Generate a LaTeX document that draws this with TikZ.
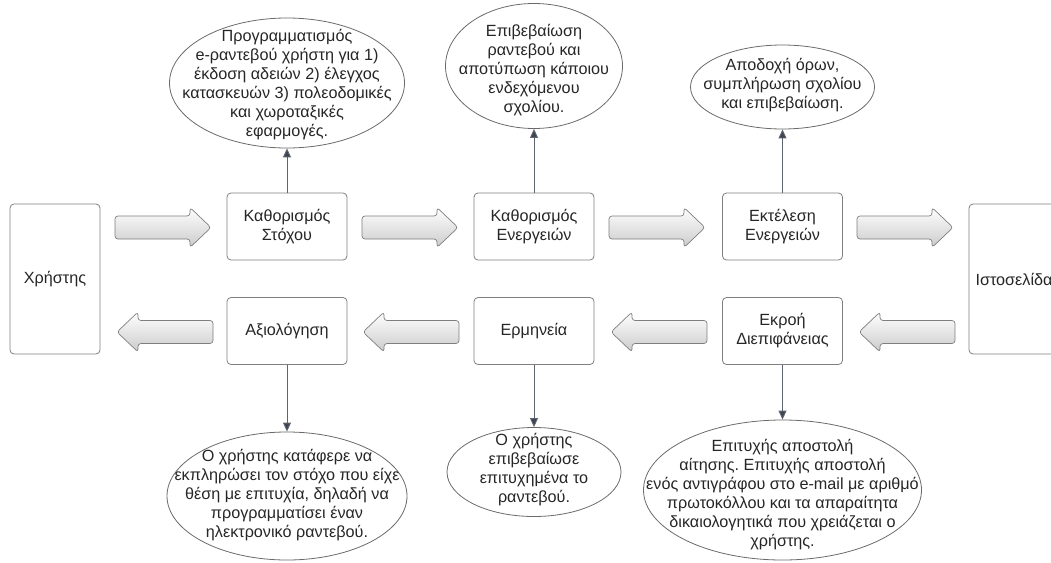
\documentclass[tikz,border=0pt]{standalone}
\usepackage{fontspec}
\setmainfont{Liberation Sans}
\usetikzlibrary{arrows.meta,shapes.geometric}
\frenchspacing

\definecolor{boxline}{HTML}{7F7F7F}
\definecolor{ellline}{HTML}{6A6A6A}
\definecolor{connline}{HTML}{5F6570}
\definecolor{tipfill}{HTML}{3E4552}
\definecolor{txt}{HTML}{262626}
\definecolor{arrowlow}{HTML}{CBCBCB}

\begin{document}
\begin{tikzpicture}[x=1pt,y=-1pt,
  every node/.style={font=\fontsize{16.2}{19}\selectfont, text=txt, align=center},
  stage/.style={draw=boxline, line width=0.8pt, rounded corners=4pt,
    minimum width=120pt, minimum height=67pt, inner sep=0pt},
  actor/.style={stage, minimum width=90pt, minimum height=150pt},
  note/.style={draw=ellline, line width=0.8pt, ellipse, inner sep=0pt},
  link/.style={draw=connline, line width=0.9pt,
    -{Triangle[length=9pt,width=8pt,fill=tipfill]}},
  flowbody/.style={draw=boxline, line width=0.7pt, rounded corners=3pt,
    top color=white, bottom color=arrowlow},
  pics/flowright/.style={code={
    \path[flowbody] (0,-11.5) -- (75,-11.5) -- (75,-20) -- (96,0)
      -- (75,20) -- (75,11.5) -- (0,11.5) -- cycle;}},
  pics/flowleft/.style={code={
    \path[flowbody] (96,-11.5) -- (21,-11.5) -- (21,-20) -- (0,0)
      -- (21,20) -- (21,11.5) -- (96,11.5) -- cycle;}},
]
\clip (0,0) rectangle (1051,562);

% end points of the loop
\node[actor] (user) at (55,279) {Χρήστης};
\node[actor] (site) at (1014,279) {Ιστοσελίδα};

% execution stages (top row)
\node[stage] (goal) at (287,226.5) {Καθορισμός\\Στόχου};
\node[stage] (plan) at (534,226.5) {Καθορισμός\\Ενεργειών};
\node[stage] (exec) at (782.5,226.5) {Εκτέλεση\\Ενεργειών};

% evaluation stages (bottom row)
\node[stage] (eval) at (287,331) {Αξιολόγηση};
\node[stage] (interp) at (534,331) {Ερμηνεία};
\node[stage] (out) at (782.5,331) {Εκροή\\Διεπιφάνειας};

% block arrows between the stages
\pic at (115,227.5) {flowright};
\pic at (362,227.5) {flowright};
\pic at (609,227.5) {flowright};
\pic at (857,227.5) {flowright};
\pic at (117,332) {flowleft};
\pic at (363,332) {flowleft};
\pic at (611,332) {flowleft};
\pic at (859,332) {flowleft};

% descriptions above
\node[note, minimum width=235pt, minimum height=130pt] (e1) at (287,83) {};
\node (e1t) at (287,85) {Προγραμματισμός\\e-ραντεβού χρήστη για 1)\\έκδοση αδειών 2) έλεγχος\\κατασκευών 3) πολεοδομικές\\και χωροταξικές\\εφαρμογές.};
\node[note, minimum width=177pt, minimum height=125pt] (e2) at (534,66) {};
\node (e2t) at (534,70) {Επιβεβαίωση\\ραντεβού και\\αποτύπωση κάποιου\\ενδεχόμενου\\σχολίου.};
\node[note, minimum width=184pt, minimum height=84pt] (e3) at (782.5,87) {};
\node (e3t) at (782.5,85) {Αποδοχή όρων,\\συμπλήρωση σχολίου\\και επιβεβαίωση.};

% descriptions below
\node[note, minimum width=240pt, minimum height=128pt] (f1) at (287,496) {};
\node (f1t) at (287,495) {Ο χρήστης κατάφερε να\\εκπληρώσει τον στόχο που είχε\\θέση με επιτυχία, δηλαδή να\\προγραμματίσει έναν\\ηλεκτρονικό ραντεβού.};
\node[note, minimum width=174pt, minimum height=89pt] (f2) at (534,472) {};
\node (f2t) at (534,470) {Ο χρήστης\\επιβεβαίωσε\\επιτυχημένα το\\ραντεβού.};
\node[note, minimum width=278pt, minimum height=140pt] (f3) at (782.5,490) {};
\node (f3t) at (782.5,495) {Επιτυχής αποστολή\\αίτησης. Επιτυχής αποστολή\\ενός αντιγράφου στο e-mail με αριθμό\\πρωτοκόλλου και τα απαραίτητα\\δικαιολογητικά που χρειάζεται ο\\χρήστης.};

% connectors
\draw[link] (goal.north) -- (e1.south);
\draw[link] (plan.north) -- (e2.south);
\draw[link] (exec.north) -- (e3.south);
\draw[link] (eval.south) -- (f1.north);
\draw[link] (interp.south) -- (f2.north);
\draw[link] (out.south) -- (f3.north);
\end{tikzpicture}
\end{document}
